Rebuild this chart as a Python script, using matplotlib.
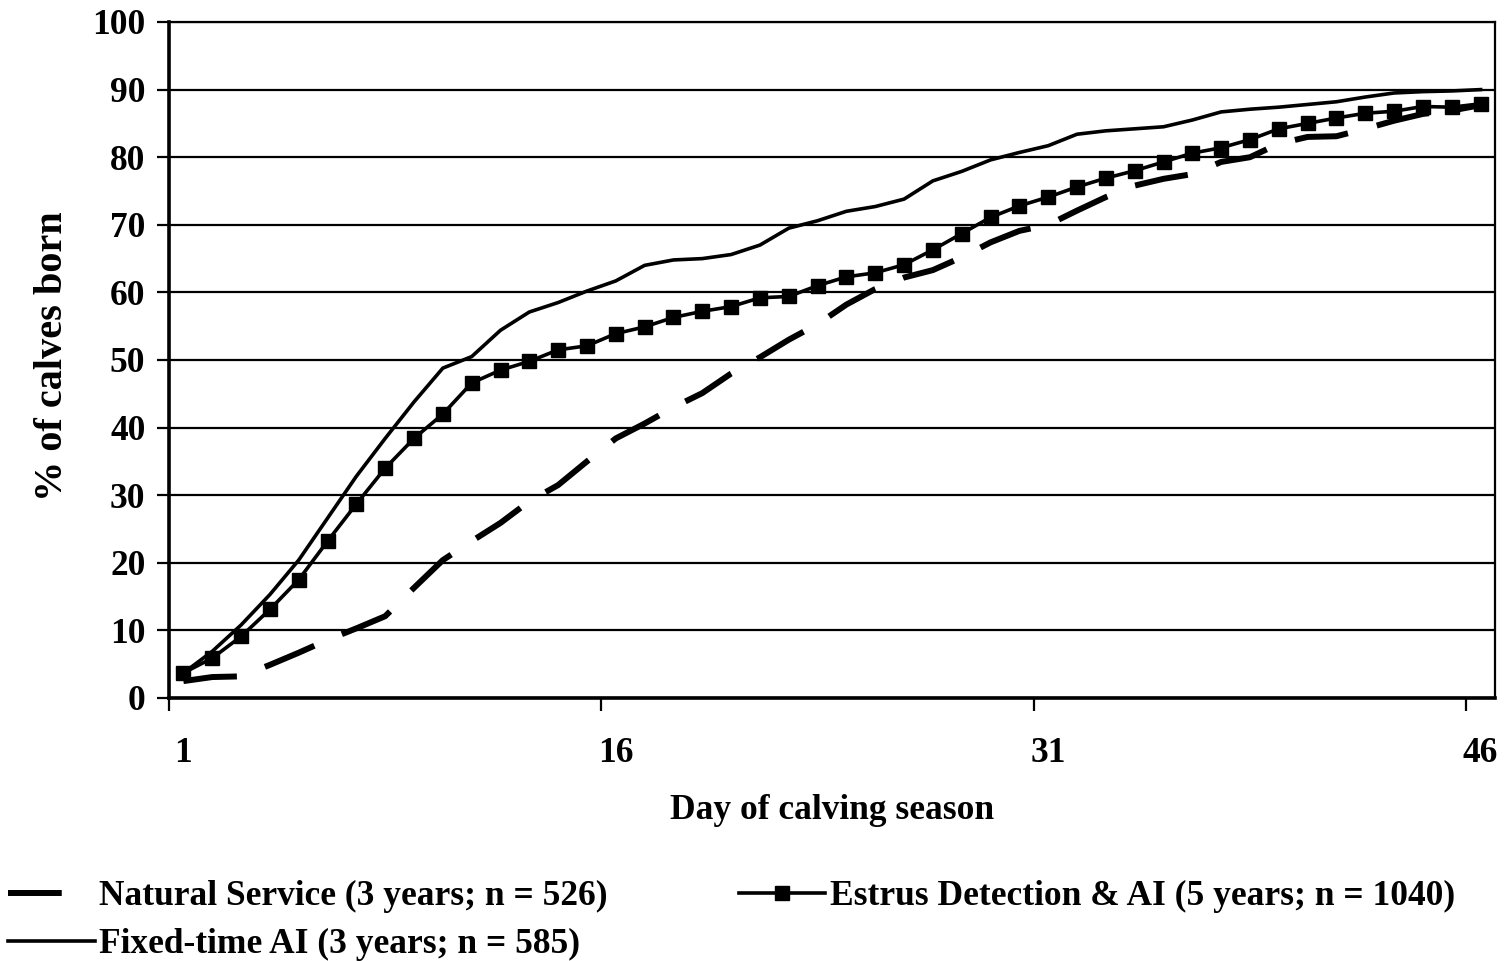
import matplotlib
matplotlib.use("Agg")
import matplotlib.pyplot as plt
from matplotlib.lines import Line2D

plt.rcParams['font.family'] = ['Liberation Serif', 'DejaVu Serif']
plt.rcParams['font.weight'] = 'bold'

days = list(range(1, 47))

natural = [2.5, 3.1, 3.2, 4.9, 6.7, 8.6, 10.3, 12.1, 16.3, 20.4, 23.2, 25.9, 29.1, 31.5, 35.0, 38.4,
           40.6, 43.0, 45.1, 48.0, 50.4, 53.0, 55.3, 58.2, 60.5, 62.2, 63.3, 65.2, 67.4, 69.1, 70.0,
           72.1, 74.1, 75.8, 76.8, 77.5, 79.3, 80.0, 82.0, 83.0, 83.1, 84.2, 85.4, 86.4, 86.9, 87.7]
estrus = [3.7, 5.9, 9.1, 13.1, 17.5, 23.2, 28.7, 34.0, 38.4, 42.0, 46.6, 48.5, 49.8, 51.5, 52.1, 53.9,
          54.9, 56.3, 57.2, 57.9, 59.2, 59.4, 61.0, 62.3, 62.9, 64.1, 66.3, 68.7, 71.1, 72.8, 74.1,
          75.6, 76.9, 78.0, 79.3, 80.6, 81.4, 82.6, 84.2, 85.0, 85.8, 86.5, 86.8, 87.5, 87.4, 87.9]
fixed = [3.7, 6.9, 10.8, 15.3, 20.4, 26.6, 32.8, 38.4, 43.8, 48.8, 50.5, 54.4, 57.1, 58.5, 60.2, 61.7,
         64.0, 64.8, 65.0, 65.6, 67.0, 69.5, 70.6, 72.0, 72.7, 73.8, 76.5, 77.9, 79.6, 80.7, 81.7,
         83.4, 83.9, 84.2, 84.5, 85.5, 86.7, 87.1, 87.4, 87.8, 88.2, 88.9, 89.5, 89.7, 89.8, 90.0]

labels = ["Natural Service (3 years; n = 526)",
          "Fixed-time AI (3 years; n = 585)",
          "Estrus Detection & AI (5 years; n = 1040)"]
x_labels = ["1", "16", "31", "46"]

fig = plt.figure(figsize=(15.07, 9.61), dpi=100)
ax = fig.add_axes([169/1507, 1 - 698/961, (1495-169)/1507, (698-22)/961])

l1, = ax.plot(days, natural, color='black', lw=4.3, dashes=(9, 5), dash_capstyle='butt', zorder=3)
l2, = ax.plot(days, fixed, color='black', lw=2.6, zorder=3)
l3, = ax.plot(days, estrus, color='black', lw=2.6, marker='s', markersize=9.5, zorder=4)

ax.set_xlim(0.5, 46.5)
ax.set_ylim(0, 100)
ax.set_yticks(range(0, 101, 10))
ax.yaxis.grid(True, color='black', lw=1.6)
ax.set_axisbelow(True)

# tick marks between categories, labels on the categories
ax.set_xticks([0.5, 15.5, 30.5, 45.5])
ax.set_xticklabels([])
ax.set_xticks([1, 16, 31, 46], minor=True)
ax.set_xticklabels(x_labels, minor=True)
ax.tick_params(axis='x', which='major', length=9, width=1.6, direction='out')
ax.tick_params(axis='x', which='minor', length=0, pad=28, labelsize=25.5)
ax.tick_params(axis='y', length=9, width=1.6, pad=8, labelsize=25.5)

for side in ['left', 'bottom']:
    ax.spines[side].set_linewidth(2.6)
for side in ['right', 'top']:
    ax.spines[side].set_linewidth(1.6)

ax.set_xlabel("Day of calving season", fontsize=25.5, fontweight='bold')
ax.xaxis.set_label_coords(0.5, -0.166)
ax.xaxis.label.set_va('center')
ax.set_ylabel("% of calves born", fontsize=29, fontweight='bold')
ax.yaxis.set_label_coords(-0.088, 0.505)
ax.yaxis.label.set_va('center')

# legend proxy for the dashed line: one dash only
nat_handle = Line2D([], [], color='black', lw=4.3, dashes=(9, 12), dash_capstyle='butt')

fig.legend([nat_handle, l2, l3], labels, ncol=2, loc='upper left', bbox_to_anchor=(8/1507, 1 - 880/961),
           frameon=False, fontsize=25.5, handlelength=2.45, handletextpad=0.12, columnspacing=3.7,
           labelspacing=0.42, borderpad=0, borderaxespad=0)

fig.savefig("out.png", dpi=100)
